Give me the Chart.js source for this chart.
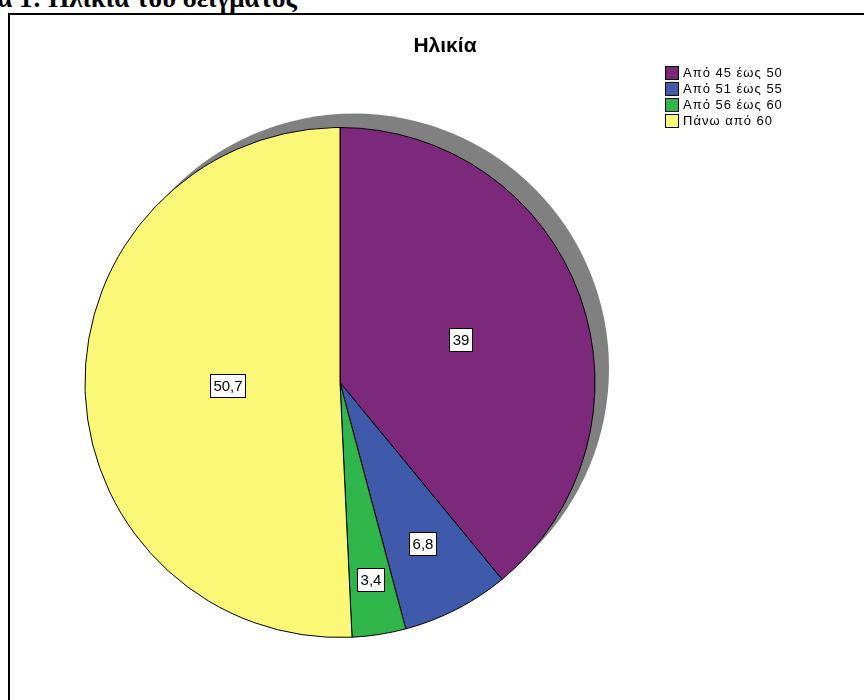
<!DOCTYPE html>
<html>
<head>
<meta charset="utf-8">
<script src="https://cdn.jsdelivr.net/npm/chart.js@4.4.1/dist/chart.umd.min.js"></script>
<style>
  html, body { margin: 0; padding: 0; background: #fff; overflow: hidden; width: 864px; height: 700px; }
  #heading {
    position: absolute; right: 567px; top: -17px;
    font: bold 27px "Liberation Serif", "Times New Roman", serif;
    white-space: nowrap; color: #000;
  }
  #frame {
    position: absolute; left: 8px; top: 13px; width: 856px; height: 687px;
    border-top: 2px solid #000; border-left: 2px solid #000; box-sizing: border-box;
  }
  canvas { position: absolute; left: 0; top: 0; }
</style>
</head>
<body>
<div id="heading">Γράφημα 1: Ηλικία του δείγματος</div>
<div id="frame"></div>
<canvas id="c" width="864" height="700"></canvas>
<script>
// Age groups of the sample and their share (%)
const categories = ['Από 45 έως 50', 'Από 51 έως 55', 'Από 56 έως 60', 'Πάνω από 60'];
const percentages = [39, 6.8, 3.4, 50.7];
const chartTitle = 'Ηλικία';

const sliceColors = ['#7c297b', '#3f5aab', '#2fb54a', '#fbf878'];
// radial position of each value box, as a fraction of the pie radius
const labelRadiusFraction = [0.50, 0.71, 0.78, 0.44];

const formatValue = v => String(v).replace('.', ',');
const SANS = '"Liberation Sans", Arial, sans-serif';

const pieShadow = {
  id: 'pieShadow',
  beforeDatasetsDraw(chart) {
    const arc = chart.getDatasetMeta(0).data[0];
    if (!arc) return;
    const { x, y, outerRadius } = arc.getProps(['x', 'y', 'outerRadius'], true);
    const ctx = chart.ctx;
    ctx.save();
    ctx.fillStyle = '#808080';
    ctx.beginPath();
    ctx.arc(x + 14, y - 14, outerRadius, 0, Math.PI * 2);
    ctx.fill();
    ctx.restore();
  }
};

const valueBoxes = {
  id: 'valueBoxes',
  afterDatasetsDraw(chart) {
    const ctx = chart.ctx;
    const meta = chart.getDatasetMeta(0);
    const values = chart.data.datasets[0].data;
    ctx.save();
    ctx.font = '15px ' + SANS;
    ctx.textAlign = 'center';
    ctx.textBaseline = 'middle';
    meta.data.forEach((arc, i) => {
      const p = arc.getProps(['x', 'y', 'startAngle', 'endAngle', 'outerRadius'], true);
      const mid = (p.startAngle + p.endAngle) / 2;
      const r = p.outerRadius * labelRadiusFraction[i];
      const cx = p.x + Math.cos(mid) * r;
      const cy = p.y + Math.sin(mid) * r;
      const text = formatValue(values[i]);
      const w = Math.round(ctx.measureText(text).width + 6);
      const h = 23;
      const bx = Math.round(cx - w / 2) + 0.5;
      const by = Math.round(cy - h / 2) + 0.5;
      ctx.fillStyle = '#fff';
      ctx.fillRect(bx, by, w, h);
      ctx.strokeStyle = '#000';
      ctx.lineWidth = 1;
      ctx.strokeRect(bx, by, w, h);
      ctx.fillStyle = '#000';
      ctx.fillText(text, bx + w / 2, by + h / 2 + 1);
    });
    ctx.restore();
  }
};

const titleAndLegend = {
  id: 'titleAndLegend',
  afterDraw(chart) {
    const ctx = chart.ctx;
    ctx.save();
    ctx.fillStyle = '#000';
    ctx.font = 'bold 21px ' + SANS;
    ctx.textAlign = 'center';
    ctx.textBaseline = 'middle';
    ctx.fillText(chartTitle, 445, 46);

    ctx.font = '13px ' + SANS;
    ctx.letterSpacing = '1px';
    ctx.textAlign = 'left';
    const ds = chart.data.datasets[0];
    chart.data.labels.forEach((label, i) => {
      const top = 66 + i * 16;
      ctx.fillStyle = ds.backgroundColor[i];
      ctx.fillRect(665.5, top + 0.5, 13, 13);
      ctx.strokeStyle = '#000';
      ctx.lineWidth = 1;
      ctx.strokeRect(665.5, top + 0.5, 13, 13);
      ctx.fillStyle = '#000';
      ctx.fillText(label, 683, top + 7.5);
    });
    ctx.restore();
  }
};

new Chart(document.getElementById('c'), {
  type: 'pie',
  data: {
    labels: categories,
    datasets: [{
      data: percentages,
      backgroundColor: sliceColors,
      borderColor: '#000',
      borderWidth: 1,
      radius: 255
    }]
  },
  options: {
    responsive: false,
    animation: false,
    layout: { padding: { left: 60, right: 244, top: 110, bottom: 45 } },
    plugins: {
      legend: { display: false },
      title: { display: false },
      tooltip: { enabled: false }
    }
  },
  plugins: [pieShadow, valueBoxes, titleAndLegend]
});
</script>
</body>
</html>
